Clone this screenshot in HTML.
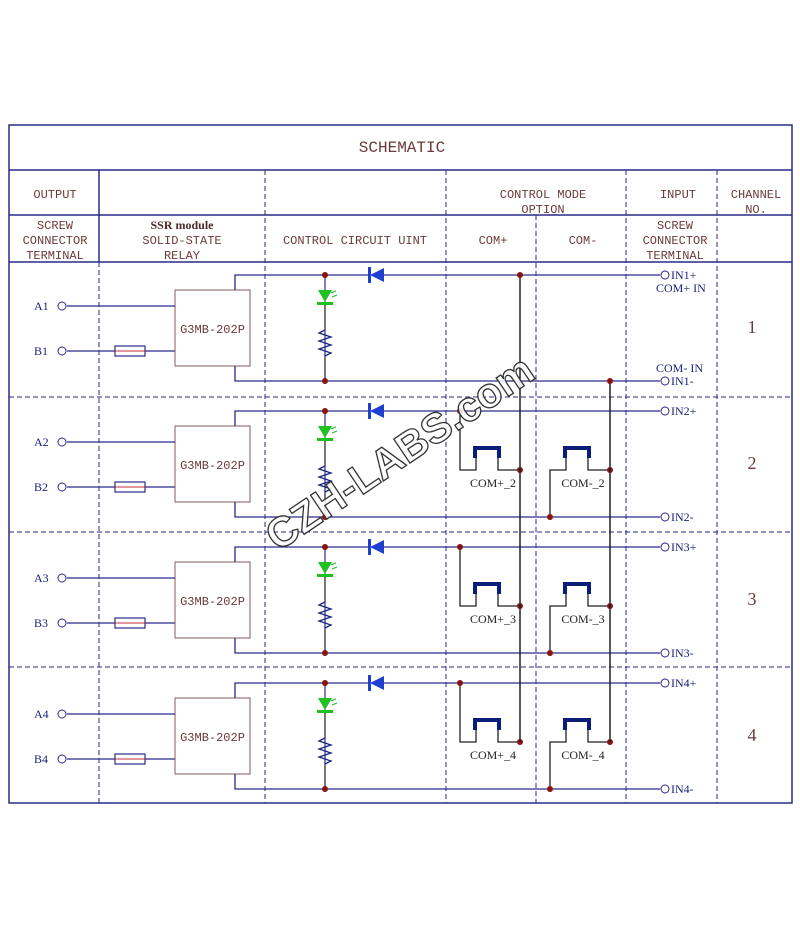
<!DOCTYPE html>
<html><head><meta charset="utf-8"><style>
html,body{margin:0;padding:0;background:#fff;width:800px;height:930px;overflow:hidden}
svg{display:block}
.h{font-family:"Liberation Mono","DejaVu Sans Mono",monospace;fill:#6b3a3a;font-size:12px;text-anchor:middle}
.l{font-family:"Liberation Serif",serif;fill:#1a237e;font-size:12px}
.s{font-family:"Liberation Serif",serif;fill:#222;font-size:12px;text-anchor:middle}
</style></head><body>
<svg width="800" height="930" viewBox="0 0 800 930" xmlns="http://www.w3.org/2000/svg">
<defs>
<g id="ch">
  <rect x="175" y="290" width="75" height="76" fill="#fff" stroke="#8b5a5a" stroke-width="1"/>
  <text x="212.5" y="333" class="h" style="font-size:12px">G3MB-202P</text>
  <polyline points="235,290 235,275 660,275" fill="none" stroke="#2a2a8a" stroke-width="1.3"/>
  <polyline points="235,366 235,381 660,381" fill="none" stroke="#2a2a8a" stroke-width="1.3"/>
  <line x1="67" y1="306" x2="175" y2="306" stroke="#2a2a8a" stroke-width="1.3"/>
  <line x1="67" y1="351" x2="175" y2="351" stroke="#2a2a8a" stroke-width="1.3"/>
  <circle cx="62" cy="306" r="4" fill="#fff" stroke="#2a2a8a"/>
  <circle cx="62" cy="351" r="4" fill="#fff" stroke="#2a2a8a"/>
  <rect x="115" y="346" width="30" height="10" fill="#fff" stroke="#2a2a8a" stroke-width="1.2"/>
  <line x1="115" y1="351" x2="145" y2="351" stroke="#c03030" stroke-width="1"/>
  <polygon points="370,275 384,268 384,282" fill="#1f3fd0"/>
  <rect x="368" y="267" width="3" height="16" fill="#1f3fd0"/>
  <line x1="325" y1="275" x2="325" y2="381" stroke="#2a2a8a" stroke-width="1.2"/>
  <polygon points="318,290 332,290 325,302" fill="#20c020"/>
  <rect x="317" y="302" width="16" height="3" fill="#20c020"/>
  <line x1="331" y1="293" x2="336" y2="291" stroke="#20c020" stroke-width="1"/>
  <line x1="332" y1="297" x2="337" y2="295" stroke="#20c020" stroke-width="1"/>
  <rect x="323" y="306" width="4" height="24" fill="#fff"/>
  <polyline points="325,330 319,333 331,337 319,341 331,345 319,349 331,353 325,356" fill="none" stroke="#1a237e" stroke-width="1.3"/>
  <rect x="323" y="357" width="4" height="20" fill="#fff"/>
  <line x1="325" y1="357" x2="325" y2="381" stroke="#222" stroke-width="1.2"/>
  <line x1="325" y1="305" x2="325" y2="330" stroke="#222" stroke-width="1.2"/>
  <circle cx="325" cy="275" r="3" fill="#8b1010"/>
  <circle cx="325" cy="381" r="3" fill="#8b1010"/>
  <circle cx="665" cy="275" r="4" fill="#fff" stroke="#2a2a8a"/>
  <circle cx="665" cy="381" r="4" fill="#fff" stroke="#2a2a8a"/>
</g>
<g id="sw">
  <polyline points="460,275 460,334 476,334 476,322" fill="none" stroke="#222" stroke-width="1.3"/>
  <polyline points="498,322 498,334 520,334" fill="none" stroke="#222" stroke-width="1.3"/>
  <path d="M473,322 V310 H501 V322 H497 V314 H477 V322 Z" fill="#0d1b7a"/>
  <circle cx="460" cy="275" r="3" fill="#8b1010"/>
  <circle cx="520" cy="334" r="3" fill="#8b1010"/>
  <polyline points="550,381 550,334 566,334 566,322" fill="none" stroke="#222" stroke-width="1.3"/>
  <polyline points="588,322 588,334 610,334" fill="none" stroke="#222" stroke-width="1.3"/>
  <path d="M563,322 V310 H591 V322 H587 V314 H567 V322 Z" fill="#0d1b7a"/>
  <circle cx="550" cy="381" r="3" fill="#8b1010"/>
  <circle cx="610" cy="334" r="3" fill="#8b1010"/>
</g>
</defs>
<g stroke="#2a2a8a" stroke-width="1.5" fill="none">
  <rect x="9" y="125" width="783" height="678"/>
  <line x1="9" y1="170" x2="792" y2="170"/>
  <line x1="9" y1="215" x2="792" y2="215"/>
  <line x1="9" y1="262" x2="792" y2="262"/>
  <line x1="99" y1="170" x2="99" y2="262"/>
</g>
<g stroke="#2a2a8a" stroke-width="1" stroke-dasharray="5,3" fill="none">
  <line x1="99" y1="262" x2="99" y2="803"/>
  <line x1="265" y1="170" x2="265" y2="803"/>
  <line x1="446" y1="170" x2="446" y2="803"/>
  <line x1="536" y1="215" x2="536" y2="803"/>
  <line x1="626" y1="170" x2="626" y2="803"/>
  <line x1="717" y1="170" x2="717" y2="803"/>
  <line x1="9" y1="397" x2="792" y2="397"/>
  <line x1="9" y1="532" x2="792" y2="532"/>
  <line x1="9" y1="667" x2="792" y2="667"/>
</g>
<text x="402" y="152" class="h" style="font-size:16px">SCHEMATIC</text>
<text x="55" y="198" class="h">OUTPUT</text>
<text x="543" y="198" class="h">CONTROL MODE</text>
<text x="543" y="213" class="h">OPTION</text>
<text x="678" y="198" class="h">INPUT</text>
<text x="756" y="198" class="h">CHANNEL</text>
<text x="756" y="213" class="h">NO.</text>
<text x="55" y="229" class="h">SCREW</text>
<text x="55" y="244" class="h">CONNECTOR</text>
<text x="55" y="259" class="h">TERMINAL</text>
<text x="182" y="229" class="s" style="fill:#4a2a2a;font-weight:bold">SSR module</text>
<text x="182" y="244" class="h">SOLID-STATE</text>
<text x="182" y="259" class="h">RELAY</text>
<text x="355" y="244" class="h">CONTROL CIRCUIT UINT</text>
<text x="493" y="244" class="h">COM+</text>
<text x="583" y="244" class="h">COM-</text>
<text x="675" y="229" class="h">SCREW</text>
<text x="675" y="244" class="h">CONNECTOR</text>
<text x="675" y="259" class="h">TERMINAL</text>
<use href="#ch"/>
<use href="#ch" transform="translate(0,136)"/>
<use href="#ch" transform="translate(0,272)"/>
<use href="#ch" transform="translate(0,408)"/>
<use href="#sw" transform="translate(0,136)"/>
<use href="#sw" transform="translate(0,272)"/>
<use href="#sw" transform="translate(0,408)"/>
<line x1="520" y1="275" x2="520" y2="742" stroke="#222" stroke-width="1.5"/>
<line x1="610" y1="381" x2="610" y2="742" stroke="#222" stroke-width="1.5"/>
<circle cx="520" cy="275" r="3" fill="#8b1010"/>
<circle cx="610" cy="381" r="3" fill="#8b1010"/>
<g class="l">
<text x="34" y="310">A1</text><text x="34" y="355">B1</text>
<text x="34" y="446">A2</text><text x="34" y="491">B2</text>
<text x="34" y="582">A3</text><text x="34" y="627">B3</text>
<text x="34" y="718">A4</text><text x="34" y="763">B4</text>
<text x="671" y="279">IN1+</text><text x="656" y="292">COM+ IN</text>
<text x="656" y="372">COM- IN</text><text x="671" y="385">IN1-</text>
<text x="671" y="415">IN2+</text><text x="671" y="521">IN2-</text>
<text x="671" y="551">IN3+</text><text x="671" y="657">IN3-</text>
<text x="671" y="687">IN4+</text><text x="671" y="793">IN4-</text>
</g>
<g class="s">
<text x="493" y="487">COM+_2</text><text x="583" y="487">COM-_2</text>
<text x="493" y="623">COM+_3</text><text x="583" y="623">COM-_3</text>
<text x="493" y="759">COM+_4</text><text x="583" y="759">COM-_4</text>
</g>
<g class="h" style="font-family:'Liberation Serif',serif;font-size:18px">
<text x="752" y="333">1</text><text x="752" y="469">2</text><text x="752" y="605">3</text><text x="752" y="741">4</text>
</g>
<text x="0" y="0" transform="translate(278,552) rotate(-34)" style="font-family:'Liberation Sans',sans-serif;font-weight:bold;font-size:42px;fill:#fff;fill-opacity:0.85;stroke:#333;stroke-width:1.3">CZH-LABS.com</text>
</svg>
</body></html>
